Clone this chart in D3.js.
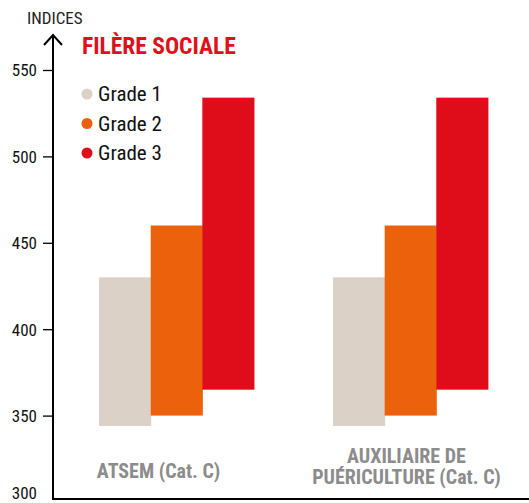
<!DOCTYPE html>
<html>
<head>
<meta charset="utf-8">
<script src="https://cdn.jsdelivr.net/npm/d3@7"></script>
<style>
  body { margin: 0; background: #fff; }
  svg text { font-family: "Roboto Condensed", "DejaVu Sans Condensed", "Liberation Sans", sans-serif; }
</style>
</head>
<body>
<svg id="chart"></svg>
<script>
var width = 529;
var height = 503;

var categories = ["ATSEM (Cat. C)", "AUXILIAIRE DE PUÉRICULTURE (Cat. C)"];
var grades = ["Grade 1", "Grade 2", "Grade 3"];
var gradeColors = ["#dbd1c6", "#ec620c", "#de0d19"];
// indice de début et de fin de chaque grade
var gradeMin = [344, 350, 365];
var gradeMax = [430, 460, 534];
var yTicks = [300, 350, 400, 450, 500, 550];

var svg = d3.select("#chart")
    .attr("width", width)
    .attr("height", height);

var y = d3.scaleLinear()
  .domain([300, 550])
  .range([502, 70]);

var x0 = d3.scaleBand()
  .domain(categories)
  .range([53, 534])
  .paddingInner(0.338)
  .paddingOuter(0.197);

var x1 = d3.scaleBand()
  .domain(grades)
  .range([0, x0.bandwidth()]);

var data = [];
categories.forEach(function(c) {
  grades.forEach(function(g, i) {
    data.push({cat: c, grade: g, lo: gradeMin[i], hi: gradeMax[i], color: gradeColors[i]});
  });
});

svg.selectAll("rect.bar")
  .data(data)
  .enter().append("rect")
  .attr("class", "bar")
  .attr("x", function(d) { return x0(d.cat) + x1(d.grade); })
  .attr("width", x1.bandwidth() + 0.5)
  .attr("y", function(d) { return y(d.hi); })
  .attr("height", function(d) { return y(d.lo) - y(d.hi); })
  .style("fill", function(d) { return d.color; });

// axe Y
var yAxis = svg.append("g")
  .attr("transform", "translate(53,0)")
  .call(d3.axisLeft(y).tickValues(yTicks).tickSize(10).tickPadding(6));
yAxis.select(".domain").remove();
yAxis.selectAll(".tick line").style("stroke", "#000").style("stroke-width", 1.3)
  .filter(function(d) { return d === 300; }).remove();
yAxis.selectAll(".tick text")
  .style("font-size", "17px")
  .style("fill", "#111")
  .attr("dy", function(d) { return d === 300 ? "-0.2em" : "0.35em"; });

var axisBottom = Math.round(y(300)) - 3;

svg.append("line")
  .attr("x1", 53).attr("x2", 53)
  .attr("y1", 35).attr("y2", axisBottom + 1)
  .style("stroke", "#000").style("stroke-width", 2);

svg.append("path")
  .attr("d", "M44,45 L53,35 L62,45")
  .style("fill", "none").style("stroke", "#000").style("stroke-width", 2);

svg.append("line")
  .attr("x1", 52).attr("x2", width)
  .attr("y1", axisBottom).attr("y2", axisBottom)
  .style("stroke", "#000").style("stroke-width", 2);

svg.append("text")
  .attr("x", 27).attr("y", 24)
  .style("font-size", "17px")
  .style("fill", "#222")
  .text("INDICES");

svg.append("text")
  .attr("x", 82).attr("y", 54)
  .style("font-size", "23.5px")
  .style("font-weight", "bold")
  .style("fill", "#e0101b")
  .text("FILÈRE SOCIALE");

// légende
var legend = svg.append("g").attr("transform", "translate(87,94)");
var rows = legend.selectAll("g")
  .data(grades)
  .enter().append("g")
  .attr("transform", function(d, i) { return "translate(0," + (i * 29.5) + ")"; });
rows.append("circle")
  .attr("r", 5.5)
  .style("fill", function(d, i) { return gradeColors[i]; });
rows.append("text")
  .attr("x", 11)
  .attr("y", 7)
  .style("font-size", "21px")
  .style("fill", "#111")
  .text(function(d) { return d; });

// libellés des catégories
var catLines = [["ATSEM (Cat. C)"], ["AUXILIAIRE DE", "PUÉRICULTURE (Cat. C)"]];
var catShift = [-18, -4];
var catBase = [478, 463];
categories.forEach(function(c, i) {
  var t = svg.append("text")
    .attr("text-anchor", "middle")
    .attr("x", x0(c) + x0.bandwidth() / 2 + catShift[i])
    .attr("y", catBase[i])
    .style("font-size", "20px")
    .style("font-weight", "bold")
    .style("fill", "#8c8c8c");
  catLines[i].forEach(function(l, j) {
    t.append("tspan")
      .attr("x", x0(c) + x0.bandwidth() / 2 + catShift[i])
      .attr("dy", j === 0 ? 0 : 21)
      .text(l);
  });
});
</script>
</body>
</html>
